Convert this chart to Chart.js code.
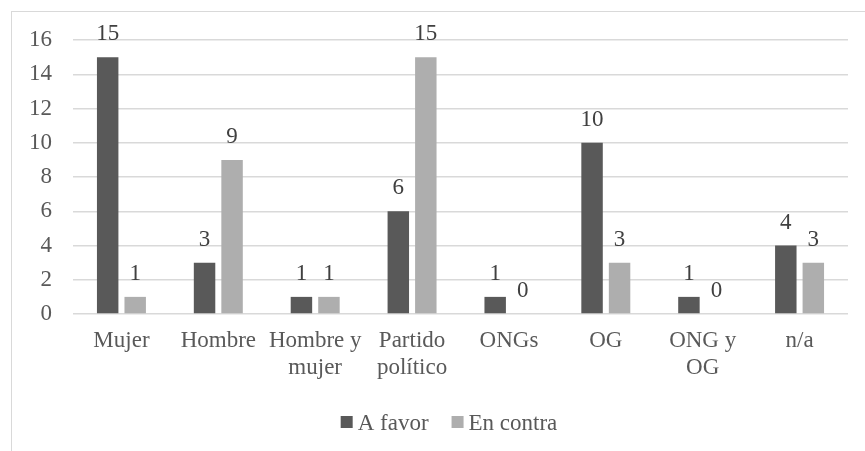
<!DOCTYPE html>
<html>
<head>
<meta charset="utf-8">
<script src="https://cdn.jsdelivr.net/npm/chart.js@4"></script>
<style>
  html, body { margin: 0; padding: 0; background: #fff; overflow: hidden; }
  #frame { position: absolute; left: 11px; top: 11px; width: 900px; height: 500px; border: 1px solid #d9d9d9; box-sizing: border-box; }
  #wrap { position: absolute; left: 0; top: 0; width: 865px; height: 451px; }
</style>
</head>
<body>
<div id="frame"></div>
<div id="wrap"><canvas id="chart" width="865" height="451"></canvas></div>
<script>
const categories = ["Mujer", "Hombre", ["Hombre y", "mujer"], ["Partido", "político"], "ONGs", "OG", ["ONG y", "OG"], "n/a"];
const aFavor = [15, 3, 1, 6, 1, 10, 1, 4];
const enContra = [1, 9, 1, 15, 0, 3, 0, 3];
const yTicks = [0, 2, 4, 6, 8, 10, 12, 14, 16];

const FONT = "'Liberation Serif', 'Times New Roman', serif";

// numbers above each bar
const valueLabels = {
  id: "valueLabels",
  afterDatasetsDraw(chart) {
    const ctx = chart.ctx;
    ctx.save();
    ctx.font = "23px " + FONT;
    ctx.fillStyle = "#404040";
    ctx.textAlign = "center";
    ctx.textBaseline = "alphabetic";
    chart.data.datasets.forEach((ds, i) => {
      chart.getDatasetMeta(i).data.forEach((bar, j) => {
        ctx.fillText(ds.data[j], bar.x, bar.y - 17);
      });
    });
    ctx.restore();
  },
};

// Excel-style legend: small square, tight gap to the text
const bottomLegend = {
  id: "bottomLegend",
  afterDraw(chart) {
    const ctx = chart.ctx;
    ctx.save();
    ctx.font = "23px " + FONT;
    ctx.textBaseline = "alphabetic";
    ctx.textAlign = "left";
    const items = chart.data.datasets.map((ds) => ({
      text: ds.label,
      color: ds.backgroundColor,
      w: 12 + 5 + ctx.measureText(ds.label).width,
    }));
    const gap = 23;
    const total = items.reduce((s, it) => s + it.w, 0) + gap * (items.length - 1);
    let x = 449 - total / 2;
    items.forEach((it) => {
      ctx.fillStyle = it.color;
      ctx.fillRect(x, 416, 12, 12);
      ctx.fillStyle = "#595959";
      ctx.fillText(it.text, x + 17, 430);
      x += it.w + gap;
    });
    ctx.restore();
  },
};

const draw = () => {
  const ctx = document.getElementById("chart").getContext("2d");
  new Chart(ctx, {
    type: "bar",
    data: {
      labels: categories,
      datasets: [
        {
          label: "A favor",
          data: aFavor,
          backgroundColor: "#595959",
          categoryPercentage: 0.568,
          barPercentage: 0.78,
        },
        {
          label: "En contra",
          data: enContra,
          backgroundColor: "#aeaeae",
          categoryPercentage: 0.568,
          barPercentage: 0.78,
        },
      ],
    },
    options: {
      responsive: false,
      animation: false,
      layout: { padding: { top: 40, left: 0, right: 17, bottom: 50 } },
      scales: {
        x: {
          grid: { display: false, drawTicks: false },
          border: { display: false },
          ticks: { color: "#595959", font: { family: FONT, size: 23 }, padding: 13, maxRotation: 0, autoSkip: false },
          afterFit: (scale) => { scale.height = 87; },
        },
        y: {
          min: 0,
          max: 16,
          afterBuildTicks: (scale) => { scale.ticks = yTicks.map((v) => ({ value: v })); },
          grid: { color: "#d9d9d9", lineWidth: 1.5, drawTicks: false },
          border: { display: false },
          ticks: { color: "#595959", font: { family: FONT, size: 23 }, padding: 21 },
          afterFit: (scale) => { scale.width = 73; },
        },
      },
      plugins: {
        legend: { display: false },
        tooltip: { enabled: false },
      },
    },
    plugins: [valueLabels, bottomLegend],
  });
};

// make sure the serif face is ready before the canvas uses it
document.fonts.load("23px 'Liberation Serif'").then(draw, draw);
</script>
</body>
</html>
